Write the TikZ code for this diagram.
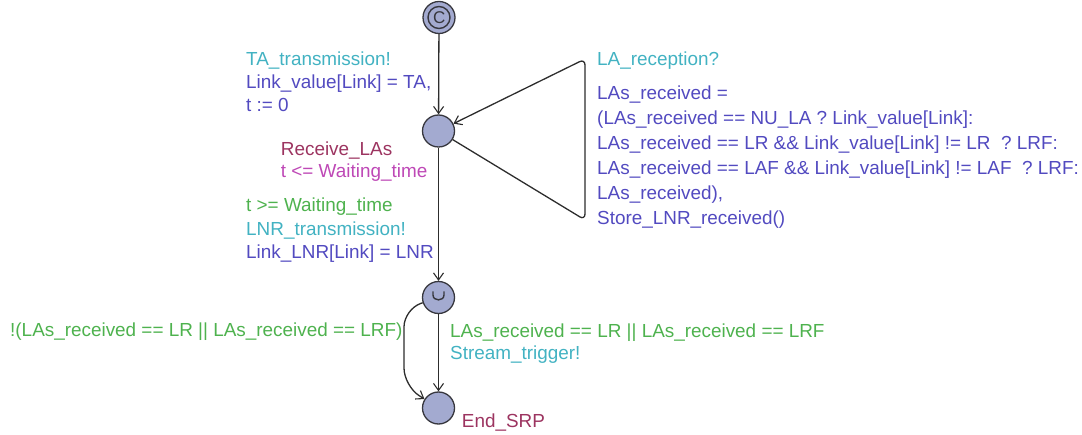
\documentclass[tikz,border=0pt]{standalone}
\usepackage{fontspec}
\setmainfont{Liberation Sans}
\usetikzlibrary{arrows.meta}
\definecolor{cSync}{RGB}{66,178,194}
\definecolor{cUpd}{RGB}{82,74,192}
\definecolor{cGuard}{RGB}{78,178,78}
\definecolor{cName}{RGB}{156,52,96}
\definecolor{cInv}{RGB}{190,72,182}
\definecolor{locfill}{RGB}{163,170,208}
\definecolor{locborder}{RGB}{55,55,62}
\definecolor{edgecol}{RGB}{45,45,45}
\tikzset{
  loc/.style={circle,minimum size=32pt,inner sep=0pt,draw=locborder,fill=locfill,line width=1.3pt},
  edge/.style={draw=edgecol,line width=1.3pt,-{Straight Barb[length=7pt,width=10pt,line width=1.1pt]}},
  lbl/.style={anchor=base west,inner sep=0pt,font=\fontsize{18.9}{22}\selectfont},
  sync/.style={lbl,text=cSync},
  upd/.style={lbl,text=cUpd},
  guard/.style={lbl,text=cGuard},
  lname/.style={lbl,text=cName},
  inv/.style={lbl,text=cInv}
}
\begin{document}
\begin{tikzpicture}[x=1pt,y=-1pt]
\useasboundingbox (0,0) rectangle (1082,435);
% locations
\node[loc] (init) at (439,17.5) {};
\draw[locborder,line width=1.4pt] (init.center) circle[radius=11pt];
\node[inner sep=0pt,text=locborder,font=\fontsize{17}{17}\selectfont] (initC) at (439.3,17.5) {C};
\node[loc] (recv) at (438.5,131) {};
\node[loc] (urg) at (438.5,297.5) {};
\draw[locborder,line width=1.4pt] (433,291.5) -- (433,295) .. controls (433,301.5) and (444,301.5) .. (444,295) -- (444,291.5);
\node[loc] (endn) at (438.5,408) {};
% waypoints
\coordinate (loopB) at (585,220);
\coordinate (loopT) at (585,59);
\coordinate (leftA) at (404,309);
\coordinate (leftB) at (404,386);
% edges
\draw[edge] (init) -- (recv);
\draw[edge,rounded corners=6pt] (recv) -- (loopB) -- (loopT) -- (recv);
\draw[edge] (recv) -- (urg);
\draw[edge] (urg) -- (endn);
\draw[edge,rounded corners=18pt] (urg) -- (leftA) -- (leftB) -- (endn);
% labels: init -> recv
\node[sync] (l1) at (246,66) {TA\_transmission!};
\node[upd] (l2) at (246,88.5) {Link\_value[Link] = TA,};
\node[upd] (l3) at (246,111.5) {t := 0};
% recv location
\node[lname] (l4) at (280.7,156) {Receive\_LAs};
\node[inv] (l5) at (280.7,177.7) {t <= Waiting\_time};
% recv -> urg
\node[guard] (l6) at (246,211.7) {t >= Waiting\_time};
\node[sync] (l7) at (246,236) {LNR\_transmission!};
\node[upd] (l8) at (246,258.5) {Link\_LNR[Link] = LNR};
% self loop
\node[sync] (r0) at (597,65.7) {LA\_reception?};
\node[upd] (r1) at (597,100) {LAs\_received =};
\node[upd] (r2) at (597,125) {(LAs\_received == NU\_LA ? Link\_value[Link]:};
\node[upd] (r3) at (597,150) {LAs\_received == LR \&\& Link\_value[Link] != LR\ \ ? LRF:};
\node[upd] (r4) at (597,175) {LAs\_received == LAF \&\& Link\_value[Link] != LAF\ \ ? LRF:};
\node[upd] (r5) at (597,200) {LAs\_received),};
\node[upd] (r6) at (597,225) {Store\_LNR\_received()};
% bottom
\node[guard] (b1) at (10,336.7) {!(LAs\_received == LR || LAs\_received == LRF)};
\node[guard] (b2) at (450,337.3) {LAs\_received == LR || LAs\_received == LRF};
\node[sync] (b3) at (450,359.3) {Stream\_trigger!};
\node[lname] (b4) at (461.7,427.3) {End\_SRP};
\end{tikzpicture}
\end{document}
